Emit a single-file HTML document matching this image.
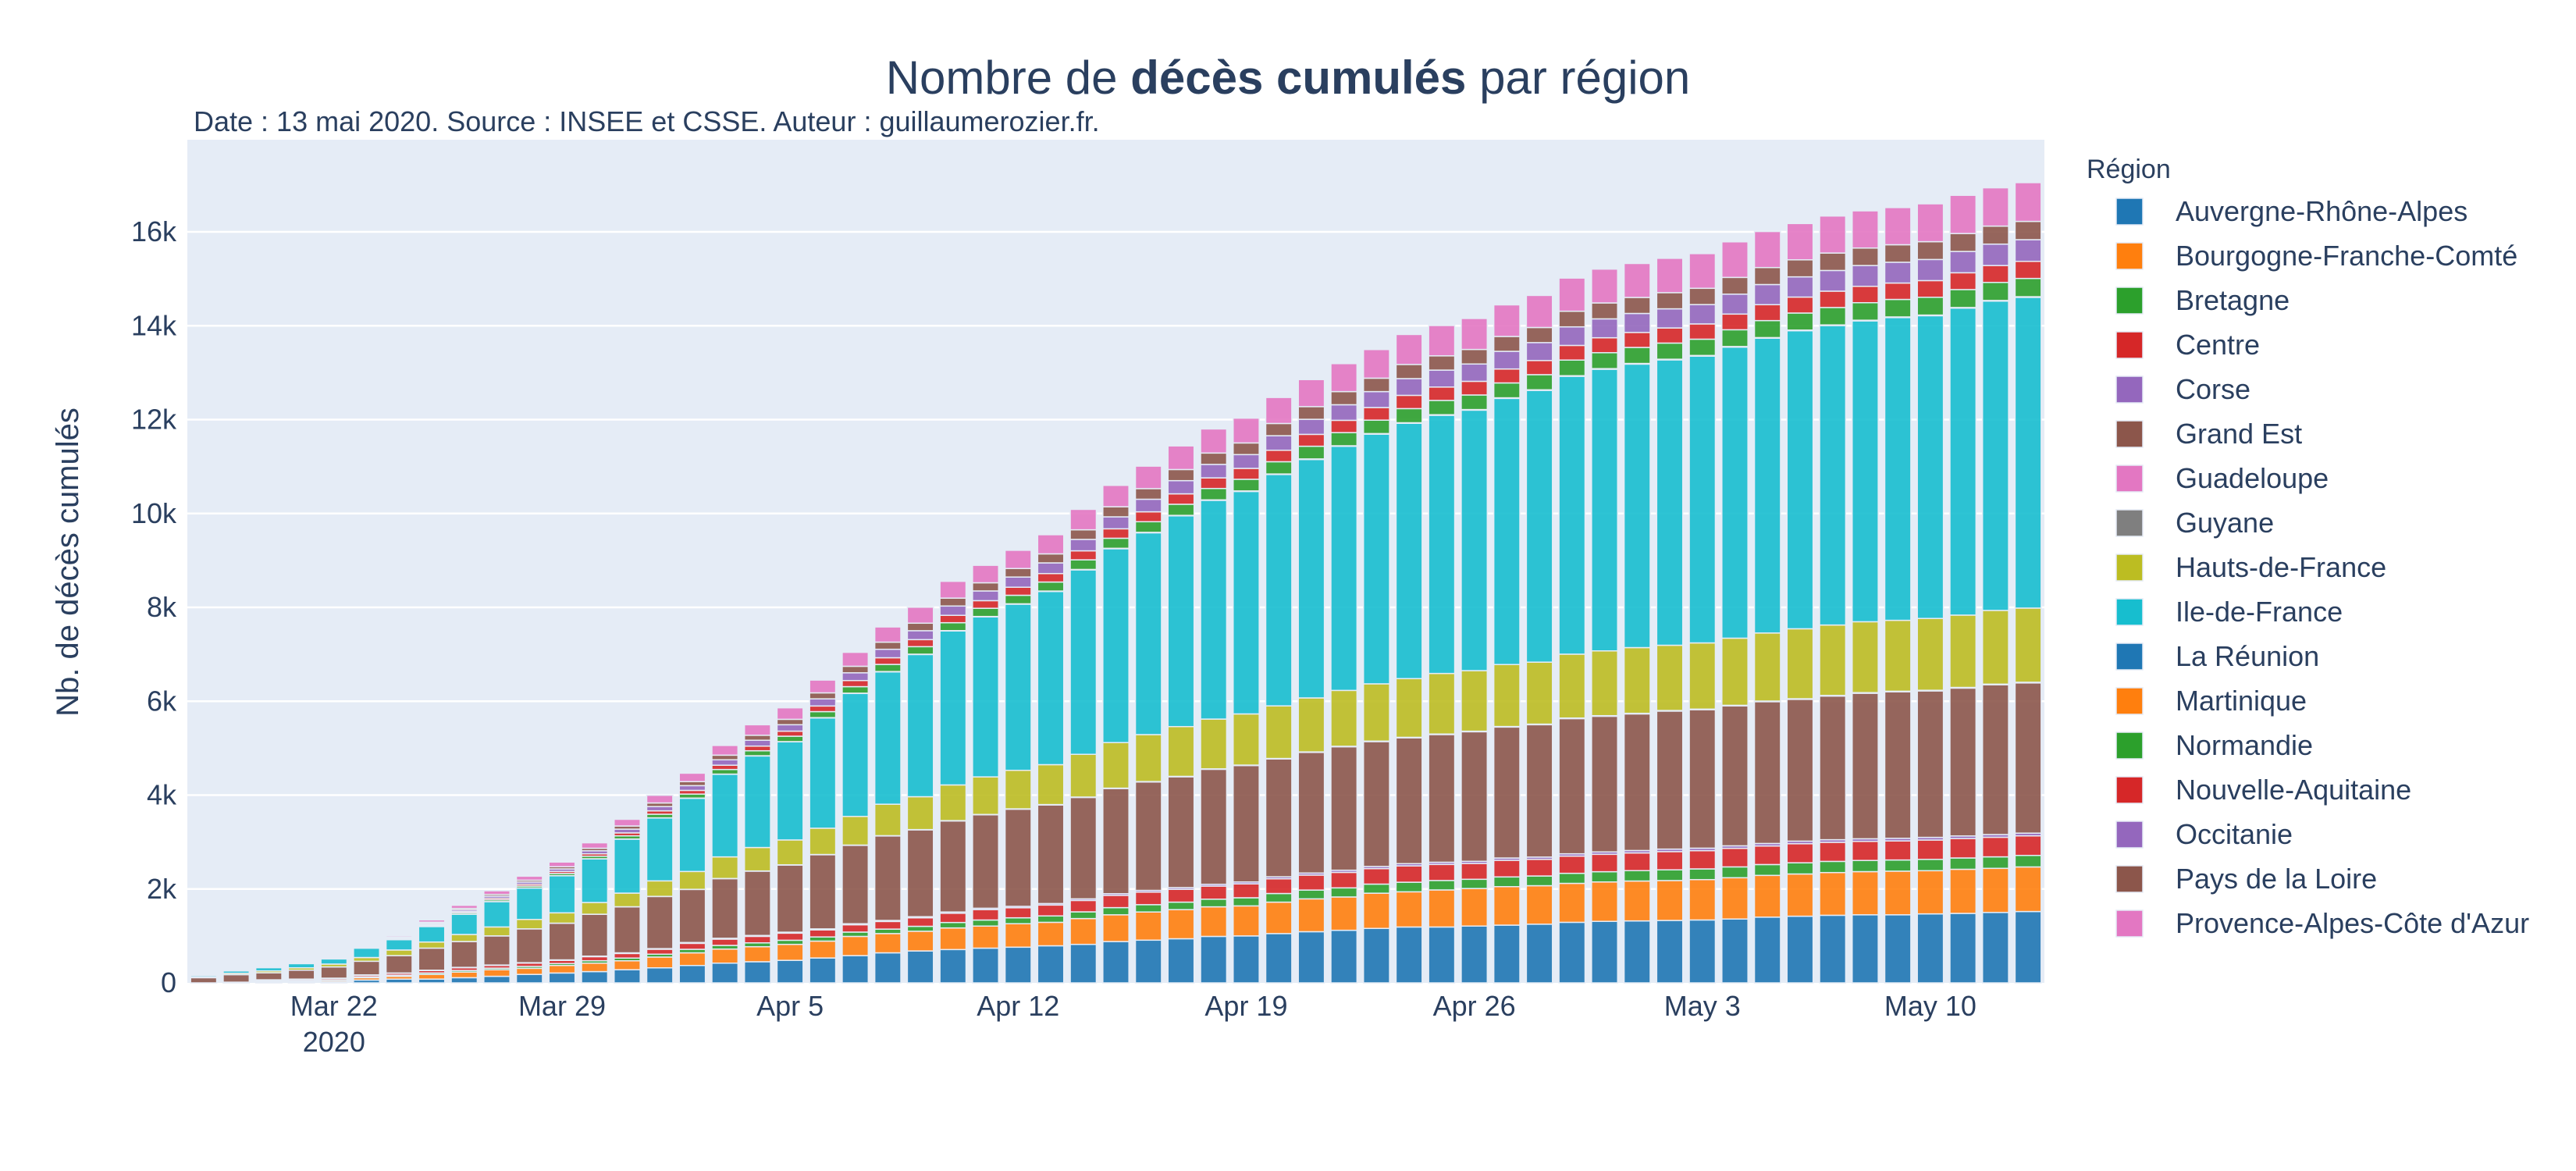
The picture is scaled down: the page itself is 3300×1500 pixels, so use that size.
<!DOCTYPE html>
<html><head><meta charset="utf-8"><style>
html,body{margin:0;padding:0;background:#fff;}
svg{display:block;font-family:"Liberation Sans",Arial,sans-serif;}
</style></head><body>
<svg id="chart" width="3300" height="1500" viewBox="0 0 3300 1500" xmlns="http://www.w3.org/2000/svg">
<rect x="0" y="0" width="3300" height="1500" fill="#ffffff"/>
<text x="1650" y="120" text-anchor="middle" font-size="60" fill="#2a3f5f">Nombre de <tspan font-weight="bold">décès cumulés</tspan> par région</text>
<text x="248" y="168" font-size="36" fill="#2a3f5f">Date : 13 mai 2020. Source : INSEE et CSSE. Auteur : guillaumerozier.fr.</text>
<rect x="240" y="179" width="2379" height="1080" fill="#E5ECF6"/>
<g id="grid"></g>
<g id="bars"></g>
<g id="yticks"></g>
<g id="xticks"></g>
<text transform="translate(100,720) rotate(-90)" text-anchor="middle" font-size="40" fill="#2a3f5f">Nb. de décès cumulés</text>
<text x="2673" y="228" font-size="34" fill="#2a3f5f">Région</text>
<g id="legend"></g>
</svg>
<script>
const regions = ["Auvergne-Rhône-Alpes","Bourgogne-Franche-Comté","Bretagne","Centre","Corse","Grand Est","Guadeloupe","Guyane","Hauts-de-France","Ile-de-France","La Réunion","Martinique","Normandie","Nouvelle-Aquitaine","Occitanie","Pays de la Loire","Provence-Alpes-Côte d'Azur"];
const colors = ["#1f77b4","#ff7f0e","#2ca02c","#d62728","#9467bd","#8c564b","#e377c2","#7f7f7f","#bcbd22","#17becf","#1f77b4","#ff7f0e","#2ca02c","#d62728","#9467bd","#8c564b","#e377c2"];
const dayCount = 57;
const startDate = "2020-03-18";
const yTickValues = [0,2000,4000,6000,8000,10000,12000,14000,16000];
const yTickLabels = ["0","2k","4k","6k","8k","10k","12k","14k","16k"];
const xTickDays = [4,11,18,25,32,39,46,53];
const xTickLabels = ["Mar 22","Mar 29","Apr 5","Apr 12","Apr 19","Apr 26","May 3","May 10"];
const auvergne = [0,5,10,15,20,60,80,80,110,140,180,210,240,280,320,370,420,450,480,530,580,640,680,710,740,760,790,820,880,910,940,990,1000,1050,1090,1120,1160,1190,1190,1210,1230,1250,1290,1310,1320,1330,1340,1360,1400,1420,1440,1450,1450,1470,1480,1500,1520];
const bourgogne = [0,5,15,20,30,50,60,100,120,140,130,160,180,190,230,270,300,320,340,360,410,410,420,460,470,500,500,550,570,600,620,630,640,670,700,710,750,750,790,800,820,820,830,840,850,850,860,880,890,900,910,920,930,920,940,940,950];
const bretagne = [0,2,14,15,17,20,24,31,34,34,41,41,51,58,61,75,78,82,88,88,92,95,105,116,129,126,136,143,153,156,160,163,173,184,187,194,194,204,201,197,207,207,214,218,221,228,228,231,231,238,238,238,238,241,241,245,245];
const centre = [0,3,23,26,29,35,40,52,58,58,69,69,87,98,105,127,134,139,151,151,156,163,180,197,221,214,232,243,261,267,272,279,296,313,319,330,330,348,342,337,354,354,366,371,377,388,388,395,395,406,406,406,406,412,412,417,417];
const corse = [0,0,3,4,4,5,6,7,8,8,10,10,12,14,14,18,18,19,21,21,22,22,25,27,30,30,32,34,36,37,38,38,41,43,44,46,46,48,47,46,49,49,50,51,52,54,54,54,54,56,56,56,56,57,57,58,58];
const grandEst = [110,160,150,190,240,290,370,470,550,620,720,780,890,980,1110,1130,1270,1370,1430,1580,1670,1800,1850,1940,1990,2070,2100,2160,2240,2310,2360,2450,2480,2510,2570,2630,2660,2680,2720,2760,2790,2820,2880,2890,2910,2940,2950,2980,3020,3020,3060,3100,3120,3120,3150,3190,3200];
const guadeloupe = [0,0,0,0,0,0,0,0,1,1,1,2,2,2,3,3,4,4,5,5,6,6,6,7,7,7,8,8,8,8,9,9,9,10,10,10,10,11,11,11,11,12,12,12,12,12,12,13,13,13,13,13,13,13,14,14,14];
const guyane = [0,0,0,0,0,0,0,0,0,0,0,0,0,0,0,0,0,0,0,0,0,0,0,0,1,1,1,1,1,1,1,1,1,1,1,1,1,1,1,1,1,1,1,1,1,1,1,1,1,1,1,1,1,1,1,1,1];
const hautsDeFrance = [20,30,40,50,60,80,120,130,150,190,200,220,250,290,330,380,460,500,530,560,610,670,700,760,800,820,850,910,970,1000,1060,1060,1090,1120,1150,1190,1220,1250,1290,1290,1320,1320,1360,1380,1400,1390,1410,1430,1450,1490,1500,1510,1510,1530,1540,1570,1580];
const ileDeFrance = [30,50,70,90,110,200,220,330,430,540,670,790,930,1150,1340,1560,1760,1950,2090,2350,2620,2820,3030,3280,3410,3540,3690,3930,4130,4300,4490,4660,4740,4930,5080,5200,5320,5440,5500,5550,5670,5790,5920,6000,6040,6080,6110,6200,6280,6350,6380,6410,6450,6450,6540,6590,6620];
const laReunion = [0,0,0,0,0,0,0,0,0,0,0,0,0,0,0,0,0,0,0,0,0,0,0,0,0,0,0,0,0,0,0,0,0,0,0,0,0,0,0,0,0,0,0,0,0,0,0,0,0,0,0,0,0,0,0,0,0];
const martinique = [0,0,0,0,0,0,1,1,1,1,2,2,2,3,3,4,4,5,5,6,6,7,7,8,8,8,9,9,10,10,10,11,11,11,12,12,12,12,13,13,13,13,13,14,14,14,14,14,14,14,14,14,14,14,14,14,14];
const normandie = [2,2,2,2,3,5,13,22,30,37,40,46,54,67,77,85,98,106,115,128,139,152,160,168,174,182,192,205,214,226,237,242,248,261,270,280,286,301,304,310,317,322,333,339,341,344,347,357,362,363,371,373,373,379,382,384,389];
const nouvelleAquitaine = [1,2,2,1,3,4,12,21,28,34,37,43,51,63,72,79,91,99,108,120,130,142,150,157,163,171,180,192,201,211,222,226,232,244,253,262,268,282,285,291,297,301,312,318,319,322,325,334,339,340,348,349,349,355,358,360,364];
const occitanie = [2,3,3,2,4,6,15,27,36,44,47,55,65,80,91,101,116,125,137,152,165,180,190,199,207,217,228,243,255,268,281,287,294,310,321,332,340,357,361,369,376,382,395,403,405,408,412,424,429,431,441,443,443,450,454,456,462];
const paysDeLaLoire = [2,2,2,2,3,5,13,22,30,37,40,46,54,67,77,85,98,106,115,128,139,152,160,168,174,182,192,205,214,226,237,242,248,261,270,280,286,301,304,310,317,322,333,339,341,344,347,357,362,363,371,373,373,379,382,384,389];
const paca = [3,6,6,3,7,10,27,48,66,78,86,100,116,143,163,180,207,224,245,272,297,324,340,358,372,388,408,435,456,479,503,513,528,554,576,596,610,639,646,660,673,683,707,721,724,732,739,758,768,773,789,792,792,807,814,816,826];
const seriesValues = [auvergne,bourgogne,bretagne,centre,corse,grandEst,guadeloupe,guyane,hautsDeFrance,ileDeFrance,laReunion,martinique,normandie,nouvelleAquitaine,occitanie,paysDeLaLoire,paca];

const NS = "http://www.w3.org/2000/svg";
const PL = 240, PR = 2619, PT = 179, PB = 1259, YMAX = 17963;
const bandW = (PR - PL) / dayCount;
function yScale(v){ return PB - v / YMAX * (PB - PT); }
function xScale(i){ return PL + (i + 0.5) * bandW; }
function mk(tag, attrs, parent){ const e = document.createElementNS(NS, tag); for (const k in attrs) e.setAttribute(k, attrs[k]); parent.appendChild(e); return e; }

const grid = document.getElementById('grid');
const yt = document.getElementById('yticks');
yTickValues.forEach((v, k) => {
  if (v > 0) {
    const l = mk('line', {x1: PL, x2: PR, y1: yScale(v), y2: yScale(v), stroke: '#ffffff', 'stroke-width': 2.5}, grid);
    
    
  }
  const t = mk('text', {x: 226, y: yScale(v) + 12, 'text-anchor': 'end', 'font-size': 36, fill: '#2a3f5f'}, yt);
  t.textContent = yTickLabels[k];
  
  
});

const xt = document.getElementById('xticks');
xTickDays.forEach((d, k) => {
  const t = mk('text', {x: xScale(d), y: 1301, 'text-anchor': 'middle', 'font-size': 36, fill: '#2a3f5f'}, xt);
  t.textContent = xTickLabels[k];
  
  
});
const yr = mk('text', {x: xScale(xTickDays[0]), y: 1347, 'text-anchor': 'middle', 'font-size': 36, fill: '#2a3f5f'}, xt);
yr.textContent = "2020";



const bars = document.getElementById('bars');
const barW = bandW * 0.8;
for (let i = 0; i < dayCount; i++) {
  let cum = 0;
  for (let s = 0; s < seriesValues.length; s++) {
    const v = seriesValues[s][i];
    if (v <= 0) continue;
    const y0 = yScale(cum), y1 = yScale(cum + v);
    cum += v;
    const r = mk('rect', {x: xScale(i) - barW / 2, y: y1, width: barW, height: Math.max(0, y0 - y1), fill: colors[s], 'fill-opacity': 0.9, stroke: '#E5ECF6', 'stroke-width': 1.5}, bars);
    
    
  }
}

const lg = document.getElementById('legend');
regions.forEach((name, k) => {
  const cy = 271 + k * 57;
  const g = mk('g', {}, lg);
  
  
  const sw = mk('rect', {x: 2711, y: cy - 17, width: 34, height: 34, fill: colors[k], stroke: '#E5ECF6', 'stroke-width': 1.5}, g);
  
  
  const t = mk('text', {x: 2787, y: cy + 12, 'font-size': 36, fill: '#2a3f5f'}, g);
  t.textContent = name;
  
  
});
</script>
</body></html>
